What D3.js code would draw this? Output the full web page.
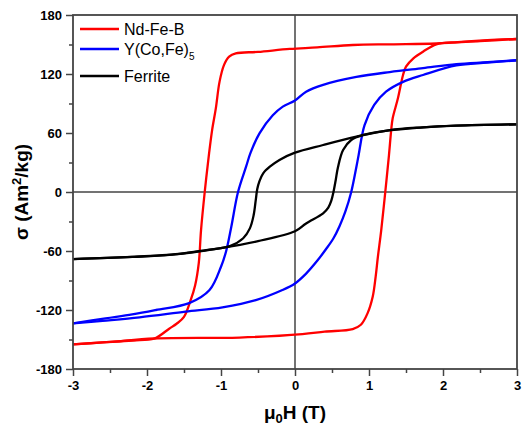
<!DOCTYPE html>
<html>
<head>
<meta charset="utf-8">
<script src="https://cdn.jsdelivr.net/npm/d3@7"></script>
<style>
  body { margin: 0; background: #fff; }
  svg text { font-family: "Liberation Sans", Arial, sans-serif; }
</style>
</head>
<body>
<svg id="chart" width="522" height="430"></svg>
<script>
// magnetization loops, [H (T), sigma (Am2/kg)]
const ndfebDown = [[3,155.6],[2.5,153.5],[1.91,151],[1.3,150.2],[0.78,149.5],[0.3,147],[-0.07,145.5],[-0.5,142.5],[-0.8,141],[-0.89,137.6],[-0.96,129],[-1.02,112],[-1.07,85],[-1.12,63],[-1.16,40],[-1.22,0],[-1.27,-39],[-1.3,-72],[-1.35,-95],[-1.41,-110],[-1.5,-127],[-1.6,-134],[-1.7,-139],[-1.9,-149],[-2.2,-151],[-2.6,-153],[-3,-155]];
const ndfebUp = [[-3,-155],[-2.5,-152.5],[-1.9,-149],[-0.75,-148],[0.1,-144.5],[0.4,-142],[0.78,-139.4],[0.89,-135],[0.98,-123.4],[1.05,-106.5],[1.09,-86],[1.12,-66],[1.165,-39],[1.22,0],[1.27,37.6],[1.3,63],[1.32,75],[1.39,95],[1.46,119],[1.5,127.5],[1.6,136],[1.73,142.7],[1.91,150.2],[2.2,152.5],[2.6,154.5],[3,155.6]];
const ycofeDown = [[3,134],[2.6,132],[2.18,130],[1.73,126],[1.28,122],[0.83,117],[0.38,109],[0.15,102],[0,93],[-0.165,86.8],[-0.3,78],[-0.48,59.7],[-0.6,40],[-0.66,26],[-0.77,0],[-0.86,-35],[-0.93,-60],[-1,-76],[-1.155,-99.7],[-1.43,-113],[-1.88,-120],[-2.2,-124.5],[-2.56,-128.5],[-3,-133.6]];
const ycofeUp = [[-3,-133.6],[-2.6,-131],[-2.1,-127.5],[-1.48,-121.7],[-0.98,-117.3],[-0.53,-110],[-0.17,-99.7],[0,-93],[0.15,-83],[0.3,-70],[0.42,-58],[0.52,-47],[0.6,-35],[0.68,-20],[0.76,0],[0.83,25.7],[0.86,37.6],[0.94,68],[1.07,88.5],[1.23,102],[1.46,112],[1.73,119],[2.18,128.7],[2.6,131.5],[3,134]];
const ferriteDown = [[3,68.8],[2.18,67.5],[1.73,65.8],[1.28,63],[0.83,56.3],[0.38,47.8],[0,40],[-0.21,32.6],[-0.34,25.7],[-0.43,19],[-0.48,11],[-0.51,3],[-0.53,-8],[-0.56,-24],[-0.61,-37],[-0.7,-47],[-0.88,-55],[-1.2,-59],[-1.57,-63],[-2.2,-66],[-3,-68.2]];
const ferriteUp = [[-3,-68.2],[-2.2,-66],[-1.7,-64],[-1,-57],[-0.5,-50],[0,-40],[0.15,-32],[0.38,-21.7],[0.45,-16],[0.49,-9],[0.52,0],[0.55,12],[0.58,25],[0.65,42.7],[0.76,52.9],[0.92,58],[1.2,62],[1.73,65.8],[2.18,67.5],[3,68.8]];

const seriesNames = ["Nd-Fe-B", "Y(Co,Fe)", "Ferrite"];
const seriesColors = ["#ff0000", "#0000ff", "#000000"];
const loops = [[ndfebDown, ndfebUp], [ycofeDown, ycofeUp], [ferriteDown, ferriteUp]];

const xTicks = [-3, -2, -1, 0, 1, 2, 3];
const yTicks = [-180, -120, -60, 0, 60, 120, 180];

const margin = { top: 15, right: 5, bottom: 61, left: 73 };
const width = 522 - margin.left - margin.right;
const height = 430 - margin.top - margin.bottom;

const svg = d3.select("#chart");
const g = svg.append("g").attr("transform", `translate(${margin.left},${margin.top})`);

const x = d3.scaleLinear().domain([-3, 3]).range([0, width]);
const y = d3.scaleLinear().domain([-180, 180]).range([height, 0]);

// zero lines
g.append("line").attr("x1", x(0)).attr("x2", x(0)).attr("y1", 0).attr("y2", height)
  .attr("stroke", "#444").attr("stroke-width", 1.5);
g.append("line").attr("x1", 0).attr("x2", width).attr("y1", y(0)).attr("y2", y(0))
  .attr("stroke", "#444").attr("stroke-width", 1.5);

// curves
const lineAny = d3.line().x(d => x(d[0])).y(d => y(d[1])).curve(d3.curveCatmullRom.alpha(0.5));
loops.forEach((pair, i) => {
  pair.forEach(branch => {
    g.append("path").datum(branch)
      .attr("d", lineAny)
      .attr("fill", "none")
      .attr("stroke", seriesColors[i])
      .attr("stroke-width", 2.3)
      .attr("stroke-linejoin", "round");
  });
});

// axes: minor ticks first, then major with labels
const minorX = d3.range(-2.5, 3, 1);
const minorY = d3.range(-150, 180, 60);
g.append("g").attr("transform", `translate(0,${height})`)
  .call(d3.axisBottom(x).tickValues(minorX).tickSize(4).tickFormat(""))
  .call(a => a.select(".domain").remove())
  .selectAll("line").attr("stroke", "#444").attr("stroke-width", 1.5);
g.append("g")
  .call(d3.axisLeft(y).tickValues(minorY).tickSize(4).tickFormat(""))
  .call(a => a.select(".domain").remove())
  .selectAll("line").attr("stroke", "#444").attr("stroke-width", 1.5);

const fmt = d => String(d); // plain hyphen minus like the original

const xAxis = g.append("g").attr("transform", `translate(0,${height})`)
  .call(d3.axisBottom(x).tickValues(xTicks).tickSize(7).tickPadding(5).tickFormat(fmt));
xAxis.select(".domain").remove();
xAxis.selectAll("line").attr("stroke", "#444").attr("stroke-width", 1.5);
xAxis.selectAll("text").attr("fill", "#000").style("font-size", "13px").style("font-weight", "bold");

const yAxis = g.append("g")
  .call(d3.axisLeft(y).tickValues(yTicks).tickSize(7).tickPadding(4).tickFormat(fmt));
yAxis.select(".domain").remove();
yAxis.selectAll("line").attr("stroke", "#444").attr("stroke-width", 1.5);
yAxis.selectAll("text").attr("fill", "#000").style("font-size", "13px").style("font-weight", "bold");

// frame
g.append("rect").attr("width", width).attr("height", height)
  .attr("fill", "none").attr("stroke", "#444").attr("stroke-width", 1.8);

// axis titles
const xt = svg.append("text")
  .attr("x", margin.left + x(0)).attr("y", 419)
  .attr("text-anchor", "middle")
  .style("font-size", "19px").style("font-weight", "bold");
xt.append("tspan").text("\u03bc");
xt.append("tspan").attr("dy", 4).style("font-size", "13px").text("0");
xt.append("tspan").attr("dy", -4).text("H (T)");

const yt = svg.append("text")
  .attr("transform", `translate(28,${margin.top + y(0)}) rotate(-90)`)
  .attr("text-anchor", "middle")
  .style("font-size", "19px").style("font-weight", "bold");
yt.append("tspan").text("\u03c3 (Am");
yt.append("tspan").attr("dy", -7).style("font-size", "13px").text("2");
yt.append("tspan").attr("dy", 7).text("/kg)");

// legend
const legendY = [29, 49, 76];
const legend = svg.append("g");
seriesNames.forEach((name, i) => {
  legend.append("line")
    .attr("x1", 80).attr("x2", 119).attr("y1", legendY[i]).attr("y2", legendY[i])
    .attr("stroke", seriesColors[i]).attr("stroke-width", 2.3);
  const t = legend.append("text")
    .attr("x", 124).attr("y", legendY[i] + 5.5)
    .style("font-size", "16px").text(name);
  if (i === 1) {
    t.append("tspan").attr("dy", 5).style("font-size", "10px").text("5");
  }
});
</script>
</body>
</html>
